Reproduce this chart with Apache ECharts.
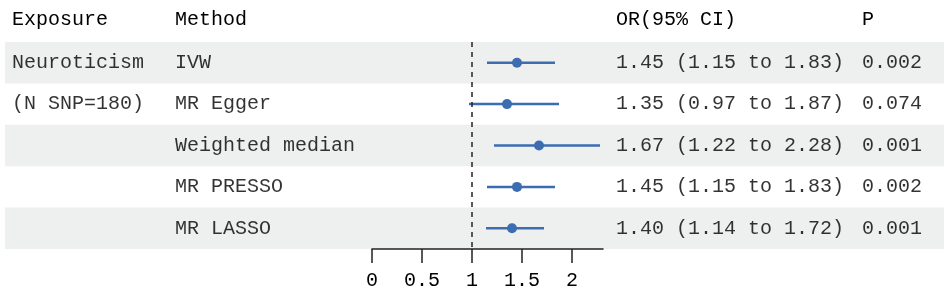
<!DOCTYPE html>
<html>
<head>
<meta charset="utf-8">
<script src="https://cdn.jsdelivr.net/npm/echarts@6/dist/echarts.min.js"></script>
<style>
html, body { margin: 0; padding: 0; background: #fff; }
#main { width: 944px; height: 300px; }
</style>
</head>
<body>
<div id="main"></div>
<script>
// data
var exposure = ['Neuroticism', '(N SNP=180)', '', '', ''];
var methods = ['IVW', 'MR Egger', 'Weighted median', 'MR PRESSO', 'MR LASSO'];
var orValues = [1.45, 1.35, 1.67, 1.45, 1.40];
var lower = [1.15, 0.97, 1.22, 1.15, 1.14];
var upper = [1.83, 1.87, 2.28, 1.83, 1.72];
var pValues = ['0.002', '0.074', '0.001', '0.002', '0.001'];
var xTicks = [0, 0.5, 1, 1.5, 2];
var headers = ['Exposure', 'Method', 'OR(95% CI)', 'P'];

var FONT = '"Liberation Mono", monospace';
var BLUE = '#3b6db0';
var INK = '#000';
// left edge of each text column, in page pixels
var colX = [12, 175, 616, 862];

function fmt(v) { return v.toFixed(2); }

var orText = orValues.map(function (v, i) {
	return fmt(v) + ' (' + fmt(lower[i]) + ' to ' + fmt(upper[i]) + ')';
});
var columns = [exposure, methods, orText, pValues];

function textSeries(col, x) {
	return {
		type: 'scatter',
		xAxisIndex: 0,
		yAxisIndex: 0,
		symbolSize: 0,
		silent: true,
		data: col.map(function (t, i) { return { name: t, value: [x, i] }; }),
		label: {
			show: true,
			position: 'right',
			distance: 0,
			formatter: function (p) { return p.name; },
			fontFamily: FONT,
			fontSize: 20,
			color: INK
		}
	};
}

var series = columns.map(function (col, k) { return textSeries(col, colX[k]); });

series.push({
	type: 'custom',
	xAxisIndex: 1,
	yAxisIndex: 1,
	silent: true,
	data: lower.map(function (lo, i) { return [lo, upper[i], i]; }),
	renderItem: function (params, api) {
		var a = api.coord([api.value(0), api.value(2)]);
		var b = api.coord([api.value(1), api.value(2)]);
		return {
			type: 'line',
			shape: { x1: a[0], y1: a[1], x2: b[0], y2: b[1] },
			style: { stroke: BLUE, lineWidth: 2.5 }
		};
	}
});

series.push({
	type: 'scatter',
	xAxisIndex: 1,
	yAxisIndex: 1,
	symbolSize: 10,
	itemStyle: { color: BLUE, opacity: 1 },
	data: orValues.map(function (v, i) { return [v, i]; }),
	markLine: {
		silent: true,
		symbol: 'none',
		label: { show: false },
		lineStyle: { color: '#222', width: 1.5, type: [5, 5] },
		data: [{ xAxis: 1 }]
	}
});

var option = {
	animation: false,
	grid: [
		{ left: 5, right: 0, top: 42, height: 207 },
		{ left: 372, width: 231, top: 42, height: 207 }
	],
	xAxis: [
		{ gridIndex: 0, type: 'value', min: 5, max: 944, show: false },
		{
			gridIndex: 1, type: 'value', min: 0, max: 2.31, interval: 0.5,
			axisLine: { show: true, lineStyle: { color: '#222', width: 1.5 } },
			axisTick: { show: true, length: 14, customValues: xTicks, lineStyle: { color: '#222', width: 1.5 } },
			axisLabel: { customValues: xTicks, margin: 22, fontFamily: FONT, fontSize: 20, color: INK },
			splitLine: { show: false }
		}
	],
	yAxis: [
		{
			gridIndex: 0, type: 'category', inverse: true, data: methods,
			axisLine: { show: false }, axisTick: { show: false }, axisLabel: { show: false },
			splitLine: { show: false },
			splitArea: { show: true, areaStyle: { color: ['#eef0ef', 'rgba(255,255,255,0)'] } }
		},
		{ gridIndex: 1, type: 'category', inverse: true, data: methods, show: false }
	],
	graphic: headers.map(function (h, k) {
		return {
			type: 'text',
			left: colX[k],
			top: 10,
			style: { text: h, font: '20px ' + FONT, fill: INK }
		};
	}),
	series: series
};

echarts.init(document.getElementById('main')).setOption(option);
</script>
</body>
</html>
